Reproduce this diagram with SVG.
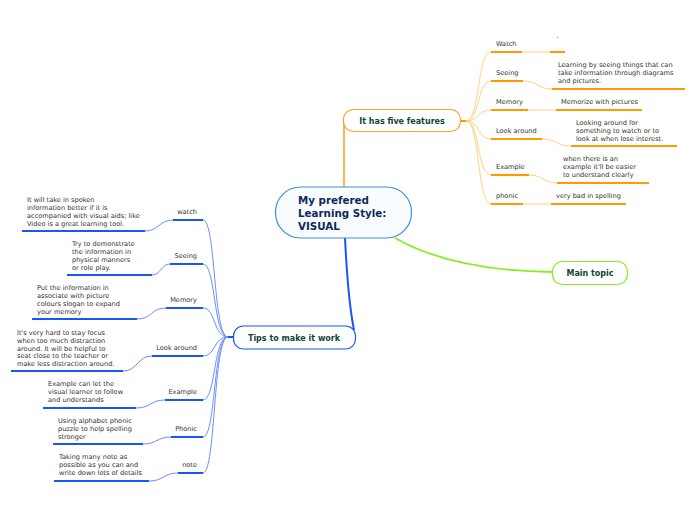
<svg xmlns="http://www.w3.org/2000/svg" width="696" height="520" viewBox="0 0 696 520">
<style>
.t{font-family:"DejaVu Sans",Verdana,sans-serif;font-size:6.6px;fill:#333}
.tb{font-family:"DejaVu Sans",Verdana,sans-serif;font-weight:bold;font-size:8px;fill:#0f4636}
.o{stroke:#ff9a00;stroke-width:2;fill:none}
.ol{stroke:#ffcf85;stroke-width:1;fill:none}
.b{stroke:#1a56f5;stroke-width:2;fill:none}
.bl{stroke:#6d8dff;stroke-width:1;fill:none}
</style>
<rect width="696" height="520" fill="#fff"/>
<g id="connectors">
<path d="M344,188 L344,122" stroke="#f9a630" stroke-width="1.6" fill="none"/>
<path d="M345,238 Q348,300 354,330" stroke="#1a56f5" stroke-width="2" fill="none"/>
<path d="M395,238 C430,258 480,271 552,272" stroke="#88f020" stroke-width="1.8" fill="none"/>
<path d="M461,121 L467,121" stroke="#ff9a00" stroke-width="2"/>
<path class="ol" d="M466,121 C480,121 477,52 491,52"/>
<path class="ol" d="M466,121 C480,121 477,81 491,81"/>
<path class="ol" d="M466,121 C480,121 477,110 491,110"/>
<path class="ol" d="M466,121 C480,121 477,139 491,139"/>
<path class="ol" d="M466,121 C480,121 477,175 491,175"/>
<path class="ol" d="M466,121 C480,121 477,204 491,204"/>
<path class="ol" d="M522,52 L550,52"/>
<path class="ol" d="M523,81 C538,81 537,89 552,89"/>
<path class="ol" d="M528,110 L556,110"/>
<path class="ol" d="M542,139 C557,139 556,146 571,146"/>
<path class="ol" d="M529,175 C543,175 543,183 557,183"/>
<path class="ol" d="M523,204 L551,204"/>
<path d="M228,337 L233,337" stroke="#1a56f5" stroke-width="2"/>
<path class="bl" d="M203,220 C216,220 213,337 228,337"/>
<path class="bl" d="M203,264 C216,264 213,337 228,337"/>
<path class="bl" d="M203,308 C216,308 213,337 228,337"/>
<path class="bl" d="M203,356 C216,356 213,337 228,337"/>
<path class="bl" d="M203,400 C216,400 213,337 228,337"/>
<path class="bl" d="M203,437 C216,437 213,337 228,337"/>
<path class="bl" d="M203,473 C216,473 213,337 228,337"/>
<path class="bl" d="M173,220 C159,220 159,231 145,231"/>
<path class="bl" d="M170,264 C161,264 161,275 152,275"/>
<path class="bl" d="M166,308 C151,308 152,319 137,319"/>
<path class="bl" d="M152,356 C137,356 138,371 123,371"/>
<path class="bl" d="M165,400 C150,400 151,408 136,408"/>
<path class="bl" d="M171,437 C157,437 157,444 143,444"/>
<path class="bl" d="M178,473 C163,473 164,481 149,481"/>
</g>
<g id="central">
<rect x="275.5" y="187" width="136" height="51" rx="25" fill="#f8fcff" stroke="#3d8fd8" stroke-width="1.2"/>
<text font-family="'DejaVu Sans',Verdana,sans-serif" font-weight="bold" font-size="10.3" fill="#0d2a5c"><tspan x="298" y="204">My prefered</tspan><tspan x="298" y="217">Learning Style:</tspan><tspan x="298" y="230">VISUAL</tspan></text>
</g>
<g id="features">
<rect x="343.5" y="109.5" width="117" height="22" rx="10" fill="#fff" stroke="#f9a630" stroke-width="1.2"/>
<text class="tb" x="402" y="124" text-anchor="middle">It has five features</text>
</g>
<g id="tips">
<rect x="233.5" y="326" width="122" height="23" rx="10" fill="#fff" stroke="#1a56f5" stroke-width="1.2"/>
<text class="tb" x="294" y="341" text-anchor="middle">Tips to make it work</text>
</g>
<g id="main-topic">
<rect x="552.5" y="261.5" width="75" height="23" rx="10" fill="#fff" stroke="#88f020" stroke-width="1.2"/>
<text class="tb" x="590" y="276" text-anchor="middle">Main topic</text>
</g>
<g id="f-watch"><path class="o" d="M491,52 H522"/><text class="t" x="496" y="46">Watch</text></g>
<g id="f-watch-1"><path class="o" d="M550,52 H565"/><text class="t" x="556" y="42">`</text></g>
<g id="f-seeing"><path class="o" d="M491,81 H523"/><text class="t" x="496" y="75">Seeing</text></g>
<g id="f-seeing-1"><path class="o" d="M552,89 H685"/><text class="t"><tspan x="558" y="67">Learning by seeing things that can</tspan><tspan x="558" y="75">take information through diagrams</tspan><tspan x="558" y="83">and pictures.</tspan></text></g>
<g id="f-memory"><path class="o" d="M491,110 H528"/><text class="t" x="496" y="104">Memory</text></g>
<g id="f-memory-1"><path class="o" d="M556,110 H642"/><text class="t" x="561" y="104">Memorize with pictures</text></g>
<g id="f-look"><path class="o" d="M491,139 H542"/><text class="t" x="496" y="133">Look around</text></g>
<g id="f-look-1"><path class="o" d="M571,146 H677"/><text class="t"><tspan x="576" y="125">Looking around for</tspan><tspan x="576" y="133">something to watch or to</tspan><tspan x="576" y="141">look at when lose interest.</tspan></text></g>
<g id="f-example"><path class="o" d="M491,175 H529"/><text class="t" x="496" y="169">Example</text></g>
<g id="f-example-1"><path class="o" d="M557,183 H649"/><text class="t"><tspan x="563" y="161">when there is an</tspan><tspan x="563" y="169">example it'll be easier</tspan><tspan x="563" y="177">to understand clearly</tspan></text></g>
<g id="f-phonic"><path class="o" d="M491,204 H523"/><text class="t" x="496" y="198">phonic</text></g>
<g id="f-phonic-1"><path class="o" d="M551,204 H626"/><text class="t" x="556" y="198">very bad in spelling</text></g>
<g id="t-watch"><path class="b" d="M173,220 H203"/><text class="t" x="197" y="214" text-anchor="end">watch</text></g>
<g id="t-watch-1"><path class="b" d="M22,231 H145"/><text class="t"><tspan x="27" y="202">It will take in spoken</tspan><tspan x="27" y="210">information better if it is</tspan><tspan x="27" y="218">accompanied with visual aids; like</tspan><tspan x="27" y="226">Video is a great learning tool.</tspan></text></g>
<g id="t-seeing"><path class="b" d="M170,264 H203"/><text class="t" x="197" y="258" text-anchor="end">Seeing</text></g>
<g id="t-seeing-1"><path class="b" d="M67,275 H152"/><text class="t"><tspan x="72" y="246">Try to demonstrate</tspan><tspan x="72" y="254">the information in</tspan><tspan x="72" y="262">physical manners</tspan><tspan x="72" y="270">or role play.</tspan></text></g>
<g id="t-memory"><path class="b" d="M166,308 H203"/><text class="t" x="197" y="302" text-anchor="end">Memory</text></g>
<g id="t-memory-1"><path class="b" d="M32,319 H137"/><text class="t"><tspan x="37" y="290">Put the information in</tspan><tspan x="37" y="298">associate with picture</tspan><tspan x="37" y="306">colours slogan to expand</tspan><tspan x="37" y="314">your memory</tspan></text></g>
<g id="t-look"><path class="b" d="M152,356 H203"/><text class="t" x="197" y="350" text-anchor="end">Look around</text></g>
<g id="t-look-1"><path class="b" d="M11,371 H123"/><text class="t"><tspan x="17" y="335">It's very hard to stay focus</tspan><tspan x="17" y="343">when too much distraction</tspan><tspan x="17" y="351">around. It will be helpful to</tspan><tspan x="17" y="358">seat close to the teacher or</tspan><tspan x="17" y="366">make less distraction around.</tspan></text></g>
<g id="t-example"><path class="b" d="M165,400 H203"/><text class="t" x="197" y="394" text-anchor="end">Example</text></g>
<g id="t-example-1"><path class="b" d="M43,408 H136"/><text class="t"><tspan x="48" y="386">Example can let the</tspan><tspan x="48" y="394">visual learner to follow</tspan><tspan x="48" y="402">and understands</tspan></text></g>
<g id="t-phonic"><path class="b" d="M171,437 H203"/><text class="t" x="197" y="431" text-anchor="end">Phonic</text></g>
<g id="t-phonic-1"><path class="b" d="M53,444 H143"/><text class="t"><tspan x="58" y="423">Using alphabet phonic</tspan><tspan x="58" y="431">puzzle to help spelling</tspan><tspan x="58" y="439">stronger</tspan></text></g>
<g id="t-note"><path class="b" d="M178,473 H203"/><text class="t" x="197" y="467" text-anchor="end">note</text></g>
<g id="t-note-1"><path class="b" d="M54,481 H149"/><text class="t"><tspan x="59" y="459">Taking many note as</tspan><tspan x="59" y="467">possible as you can and</tspan><tspan x="59" y="475">write down lots of details</tspan></text></g>
</svg>
